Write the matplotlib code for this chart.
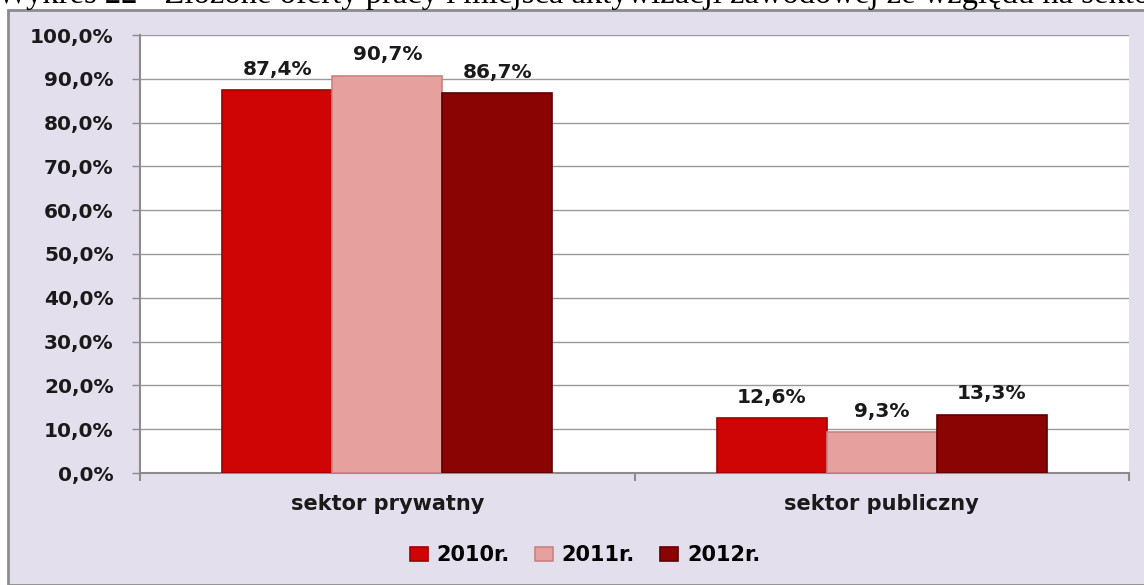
import numpy as np
import matplotlib.pyplot as plt
from matplotlib.patches import Rectangle

# data
categories = ['sektor prywatny', 'sektor publiczny']
years = ['2010r.', '2011r.', '2012r.']
values_2010 = [87.4, 12.6]
values_2011 = [90.7, 9.3]
values_2012 = [86.7, 13.3]
yticks = [0, 10, 20, 30, 40, 50, 60, 70, 80, 90, 100]
title = 'Wykres 22 - Złożone oferty pracy i miejsca aktywizacji zawodowej ze względu na sektor'

colors = ['#CF0404', '#E6A19F', '#8A0404']
edges = ['#9E0000', '#C98482', '#5E0000']

W, H = 1144, 585
fig = plt.figure(figsize=(W / 100, H / 100), dpi=100)
fig.patch.set_facecolor('white')

# chart frame (lavender), kept behind the axes
frame = Rectangle((8 / W, 0), 1.0, 1 - 10 / H, transform=fig.transFigure,
                  facecolor='#E4DFEC', edgecolor='#8C8C8C', linewidth=2, zorder=-10)
fig.add_artist(frame)

# cropped caption above the chart
fig.text(-3 / W, 1 - 3 / H, title, family='Liberation Serif', fontsize=23.5,
         va='baseline', ha='left', color='black', zorder=-5)

ax = fig.add_axes([140 / W, (H - 473) / H, 989 / W, (473 - 35) / H])
ax.set_facecolor('white')

x = np.arange(len(categories))
w = 110 / 494.5
series = [values_2010, values_2011, values_2012]
for i, vals in enumerate(series):
    pos = x + (i - 1) * w
    ax.bar(pos, vals, width=w, color=colors[i], edgecolor=edges[i], linewidth=1.2,
           label=years[i], zorder=3)
    for px, v in zip(pos, vals):
        ax.annotate(('%.1f%%' % v).replace('.', ','), (px, v), xytext=(0, 11),
                    textcoords='offset points', ha='center', va='baseline',
                    fontsize=14.5, fontweight='bold', color='#1a1a1a', zorder=4)

ax.set_xlim(-0.5, 1.5)
ax.set_ylim(0, 100)
ax.set_yticks(yticks)
ax.set_yticklabels([('%.1f%%' % t).replace('.', ',') for t in yticks],
                   fontsize=14.5, fontweight='bold', color='#1a1a1a')
ax.yaxis.grid(True, color='#9A9A9A', linewidth=1, zorder=0)
ax.set_axisbelow(True)

ax.set_xticks([-0.5, 0.5, 1.5])
ax.set_xticklabels([])
ax.set_xticks(x, minor=True)
ax.set_xticklabels(categories, minor=True, fontsize=15, fontweight='bold',
                   color='#1a1a1a')
ax.tick_params(axis='x', which='minor', length=0, pad=15)
ax.tick_params(axis='x', which='major', length=6, color='#8C8C8C', width=1.5)
ax.tick_params(axis='y', length=6, color='#8C8C8C', width=1, pad=13)

for s in ['top', 'right']:
    ax.spines[s].set_visible(False)
for s in ['left', 'bottom']:
    ax.spines[s].set_color('#8C8C8C')
    ax.spines[s].set_linewidth(1.5)

leg = fig.legend(loc='center', bbox_to_anchor=(585 / W, 1 - 555 / H), ncol=3,
                 frameon=False, handlelength=0.86, handleheight=0.67,
                 handletextpad=0.43, columnspacing=1.2,
                 prop={'size': 15, 'weight': 'bold'})

fig.savefig('out.png', dpi=100, facecolor=fig.get_facecolor())
